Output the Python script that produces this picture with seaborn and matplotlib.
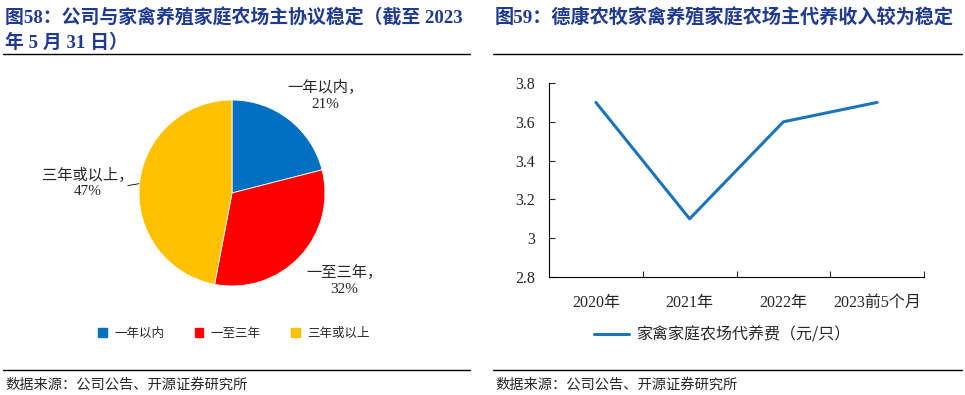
import matplotlib.pyplot as plt
import seaborn as sns
import pandas as pd
from matplotlib.lines import Line2D
from matplotlib.ticker import FixedLocator, FuncFormatter

# Data
pie_labels = ["一年以内", "一至三年", "三年或以上"]
pie_values = [21, 32, 47]
pie_colors = ["#0070C0", "#FF0000", "#FFC000"]

years = ["2020年", "2021年", "2022年", "2023前5个月"]
fee = [3.7, 3.1, 3.6, 3.7]
series_name = "家禽家庭农场代养费（元/只）"

title_left_1 = "图58：公司与家禽养殖家庭农场主协议稳定（截至 2023"
title_left_2 = "年 5 月 31 日）"
title_right = "图59：德康农牧家禽养殖家庭农场主代养收入较为稳定"
source = "数据来源：公司公告、开源证券研究所"

sns.set_theme(style="white")
plt.rcParams["font.family"] = ["Liberation Serif", "Noto Sans CJK SC", "DejaVu Sans"]

W, H = 965, 395
fig = plt.figure(figsize=(W / 100, H / 100), dpi=100)


def box(x0, y0, x1, y1):
    # pixel box (top-left origin) -> figure fraction
    return [x0 / W, 1 - y1 / H, (x1 - x0) / W, (y1 - y0) / H]


def fx(x):
    return x / W


def fy(y):
    return 1 - y / H


navy = "#1F3A8F"
mixed = ["Liberation Serif", "Noto Sans CJK SC"]

# titles
fig.text(fx(5), fy(18), title_left_1, color=navy, fontsize=13.6, fontweight="bold",
         family=mixed, va="center", ha="left")
fig.text(fx(5), fy(43), title_left_2, color=navy, fontsize=13.6, fontweight="bold",
         family=mixed, va="center", ha="left")
fig.text(fx(495), fy(18), title_right, color=navy, fontsize=13.8, fontweight="bold",
         family=mixed, va="center", ha="left")

# separator lines
for (x0, x1) in [(3, 470), (493, 962)]:
    fig.add_artist(Line2D([fx(x0), fx(x1)], [fy(54), fy(54)], color="black", lw=1.0))
    fig.add_artist(Line2D([fx(x0), fx(x1)], [fy(370), fy(370)], color="black", lw=1.0))

fig.text(fx(5), fy(385), source, fontsize=10.3, va="center", ha="left",
         family=["Noto Sans CJK SC"], fontweight="light")
fig.text(fx(495), fy(385), source, fontsize=10.3, va="center", ha="left",
         family=["Noto Sans CJK SC"], fontweight="light")

# ---------------- pie ----------------
cx, cy, r = 232, 193, 93
half = r * 1.25
ax1 = fig.add_axes(box(cx - half, cy - half, cx + half, cy + half))
wedges, _ = ax1.pie(pie_values, colors=pie_colors, startangle=90, counterclock=False,
                    radius=1, wedgeprops=dict(linewidth=0.6, edgecolor="white"))
ax1.set_xlim(-1.25, 1.25)
ax1.set_ylim(-1.25, 1.25)
ax1.set_aspect("equal")
ax1.axis("off")

label_pos = [(1.0, 1.05), (1.21, -0.94), (-1.55, 0.11)]
for lab, val, (lx, ly) in zip(pie_labels, pie_values, label_pos):
    ax1.text(lx, ly, f"{lab}，\n{val}%", ha="center", va="center", fontsize=11,
             linespacing=1.25, family=mixed)
ax1.plot([-1.12, -1.0], [0.08, 0.1], color="black", lw=0.6, clip_on=False)

handles = [plt.Rectangle((0, 0), 1, 1, color=c) for c in pie_colors]
fig.legend(handles, pie_labels, loc="center", bbox_to_anchor=(fx(234), fy(333)),
           ncol=3, frameon=False, handlelength=0.7, handleheight=0.7,
           columnspacing=2.4, handletextpad=0.6, prop={"family": "Noto Sans CJK SC", "size": 9})

# ---------------- line ----------------
df = pd.DataFrame({"year": years, "fee": fee, "x": range(len(years))})
ax2 = fig.add_axes(box(549, 83, 924, 277))
sns.lineplot(data=df, x="x", y="fee", ax=ax2, color="#1B75BB", linewidth=2.2,
             label=series_name, legend=False)
ax2.set_xlim(-0.5, len(years) - 0.5)
ax2.set_ylim(2.8, 3.8)
ax2.set_xlabel("")
ax2.set_ylabel("")
for s in ["top", "right"]:
    ax2.spines[s].set_visible(False)
for s in ["left", "bottom"]:
    ax2.spines[s].set_color("black")
    ax2.spines[s].set_linewidth(0.8)

ax2.set_yticks([2.8, 3.0, 3.2, 3.4, 3.6, 3.8])
ax2.yaxis.set_major_formatter(FuncFormatter(lambda v, p: f"{v:g}"))
ax2.tick_params(axis="y", direction="in", length=4, width=0.8, labelsize=11.5, pad=10, left=True)

ax2.xaxis.set_major_locator(FixedLocator([0.5, 1.5, 2.5, 3.5]))
ax2.xaxis.set_major_formatter(FuncFormatter(lambda v, p: ""))
ax2.xaxis.set_minor_locator(FixedLocator(list(range(len(years)))))
ax2.set_xticklabels(years, minor=True)
ax2.tick_params(axis="x", which="major", direction="in", length=4, width=0.8, bottom=True)
ax2.tick_params(axis="x", which="minor", length=0, labelsize=11.5, pad=13)
for t in ax2.get_xticklabels(minor=True) + ax2.get_yticklabels():
    t.set_family(mixed)

fig.legend([Line2D([0], [0], color="#1B75BB", lw=2.2)], [series_name], loc="center",
           bbox_to_anchor=(fx(722), fy(335)), frameon=False, handlelength=2.2,
           handletextpad=0.4, prop={"family": "Noto Sans CJK SC", "size": 11.5})

fig.savefig("out.png", dpi=100)
plt.close()
